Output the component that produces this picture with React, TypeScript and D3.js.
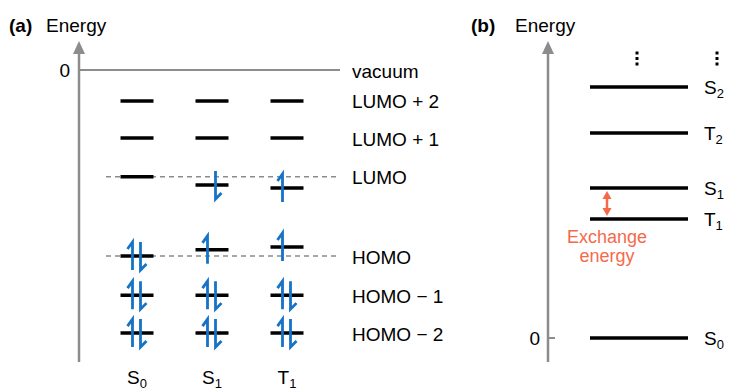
import React, { useEffect } from "react";
import * as d3 from "d3";

// panel (a): orbital levels of the three states
const states = ["S0", "S1", "T1"];
const orbitalNames = ["LUMO + 2", "LUMO + 1", "LUMO", "HOMO", "HOMO − 1", "HOMO − 2"];
// orbital energies, vacuum = 0 (arbitrary units)
const energiesS0 = [-1.06, -2.33, -3.66, -6.37, -7.71, -9.01];
const energiesS1 = [-1.06, -2.33, -3.94, -6.16, -7.71, -9.01];
const energiesT1 = [-1.06, -2.33, -4.04, -6.06, -7.71, -9.01];
// electrons: "" empty, "u" spin up, "d" spin down, "ud" pair
const occS0 = ["", "", "", "ud", "ud", "ud"];
const occS1 = ["", "", "d", "u", "ud", "ud"];
const occT1 = ["", "", "u", "u", "ud", "ud"];

// panel (b): state energies, ground state = 0
const stateNames = ["S2", "T2", "S1", "T1", "S0"];
const stateEnergies = [10, 8.17, 5.98, 4.74, 0];

const FONT = "'Liberation Sans', Arial, Helvetica, sans-serif";
const GRAY = "#8c8c8c";
const BLUE = "#1673c6";
const ORANGE = "#f5694b";

const Sub = ({ name, x, y, anchor = "middle" }) => (
	<text x={x} y={y} textAnchor={anchor} fontSize={19}>
		{name[0]}
		<tspan fontSize={13} dy={4}>
			{name.slice(1)}
		</tspan>
	</text>
);

// half-arrow (harpoon) for one electron spin
const spinPath = (x, yc, dir) =>
	dir === "u"
		? `M${x},${yc + 14}L${x},${yc - 14}L${x - 5},${yc - 7}`
		: `M${x},${yc - 14}L${x},${yc + 14}L${x + 6},${yc + 8}`;

export default function App() {
	useEffect(() => {
		document.body.style.margin = "0";
	}, []);

	const yA = d3.scaleLinear().domain([-10, 0]).range([362, 70]);
	const xA = d3.scalePoint().domain(states).range([137, 287]);
	const yB = d3.scaleLinear().domain([0, 10]).range([338, 87]);

	const energyTable = [energiesS0, energiesS1, energiesT1];
	const occTable = [occS0, occS1, occT1];
	const halfW = 16.5;

	const axisA = 79;
	const axisB = 548;

	return (
		<svg width={729} height={392} style={{ display: "block", fontFamily: FONT }}>
			<rect width={729} height={392} fill="#fff" />

			{/* ---------- panel (a) ---------- */}
			<text x={9} y={32} fontSize={19} fontWeight="bold">(a)</text>
			<text x={46} y={32} fontSize={19}>Energy</text>

			<line x1={axisA} x2={axisA} y1={yA(-10)} y2={52} stroke={GRAY} strokeWidth={2.5} />
			<path d={`M${axisA - 6},54L${axisA + 6},54L${axisA},41Z`} fill={GRAY} />
			<text x={70} y={yA(0) + 7} fontSize={19} textAnchor="end">0</text>
			<line x1={axisA} x2={340} y1={yA(0)} y2={yA(0)} stroke={GRAY} strokeWidth={2} />
			<text x={352} y={yA(0) + 8} fontSize={19}>vacuum</text>

			{/* dashed reference at ground-state LUMO / HOMO */}
			{[2, 3].map((i) => (
				<line key={i} x1={106} x2={336} y1={yA(energiesS0[i])} y2={yA(energiesS0[i])}
					stroke={GRAY} strokeWidth={1.5} strokeDasharray="5,4" />
			))}

			{orbitalNames.map((n, i) => (
				<text key={n} x={352} y={yA(energiesS0[i]) + 7.5} fontSize={19}>{n}</text>
			))}

			{states.map((s, si) => (
				<g key={s}>
					{energyTable[si].map((e, i) => (
						<line key={i} x1={xA(s) - halfW} x2={xA(s) + halfW} y1={yA(e)} y2={yA(e)}
							stroke="#000" strokeWidth={3.5} />
					))}
					{occTable[si].map((o, i) => {
						const yc = yA(energyTable[si][i]);
						const cx = xA(s);
						return (
							<g key={"o" + i} fill="none" stroke={BLUE} strokeWidth={2.8} strokeLinejoin="miter">
								{o.includes("u") && <path d={spinPath(cx - 4.5, yc, "u")} />}
								{o.includes("d") && <path d={spinPath(cx + 3.5, yc, "d")} />}
							</g>
						);
					})}
					<Sub name={s} x={xA(s)} y={384} />
				</g>
			))}

			{/* ---------- panel (b) ---------- */}
			<text x={471} y={32} fontSize={19} fontWeight="bold">(b)</text>
			<text x={515} y={32} fontSize={19}>Energy</text>

			<line x1={axisB} x2={axisB} y1={362} y2={52} stroke={GRAY} strokeWidth={2.5} />
			<path d={`M${axisB - 6},54L${axisB + 6},54L${axisB},41Z`} fill={GRAY} />
			<line x1={axisB} x2={555} y1={yB(0)} y2={yB(0)} stroke={GRAY} strokeWidth={2} />
			<text x={540} y={yB(0) + 7} fontSize={19} textAnchor="end">0</text>

			{[637, 717].map((x) => (
				<g key={x} fill="#000">
					{[53, 58.5, 64].map((y) => (
						<rect key={y} x={x - 1.5} y={y - 1.5} width={3} height={3} />
					))}
				</g>
			))}

			{stateNames.map((n, i) => (
				<g key={n}>
					<line x1={590} x2={688} y1={yB(stateEnergies[i])} y2={yB(stateEnergies[i])}
						stroke="#000" strokeWidth={3.5} />
					<Sub name={n} x={704} y={yB(stateEnergies[i]) + 7} anchor="start" />
				</g>
			))}

			{/* exchange energy between S1 and T1 */}
			{(() => {
				const y1 = yB(stateEnergies[2]) + 3;
				const y2 = yB(stateEnergies[3]) - 3;
				const x = 607;
				return (
					<g fill={ORANGE} stroke="none">
						<line x1={x} x2={x} y1={y1 + 5} y2={y2 - 5} stroke={ORANGE} strokeWidth={2.5} />
						<path d={`M${x},${y1}L${x - 4.5},${y1 + 8}L${x + 4.5},${y1 + 8}Z`} />
						<path d={`M${x},${y2}L${x - 4.5},${y2 - 8}L${x + 4.5},${y2 - 8}Z`} />
						<text x={x} y={243} fontSize={18} textAnchor="middle">Exchange</text>
						<text x={x} y={262} fontSize={18} textAnchor="middle">energy</text>
					</g>
				);
			})()}
		</svg>
	);
}
